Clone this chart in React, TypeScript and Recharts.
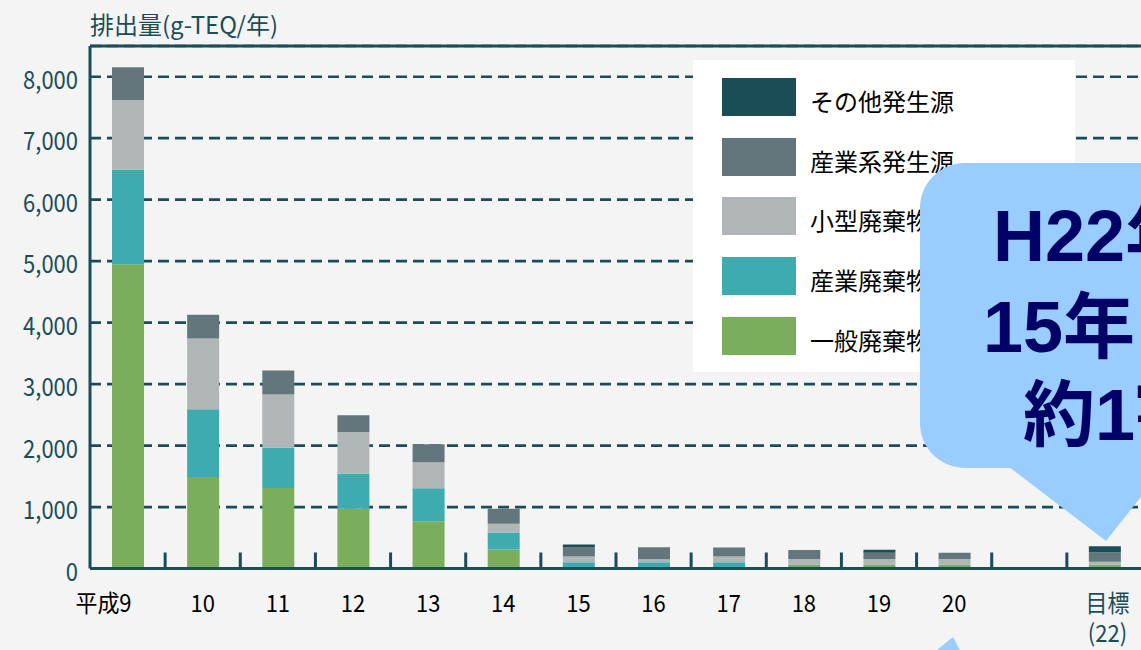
import React from "react";
import {
  BarChart,
  Bar,
  XAxis,
  YAxis,
  CartesianGrid,
  ReferenceLine,
  Legend,
} from "recharts";

const YEARS = ["平成9", "10", "11", "12", "13", "14", "15", "16", "17", "18", "19", "20", "", "目標\n(22)"];
const GENERAL = [4950, 1490, 1310, 970, 770, 310, 0, 0, 0, 60, 60, 60, null, 60];
const IND_WASTE = [1535, 1100, 660, 570, 535, 275, 100, 100, 100, 0, 0, 0, null, 0];
const SMALL = [1135, 1150, 860, 680, 425, 145, 95, 50, 95, 95, 95, 95, null, 50];
const IND_SRC = [535, 390, 390, 275, 290, 240, 145, 195, 145, 145, 100, 100, null, 150];
const OTHER = [0, 0, 0, 0, 0, 0, 50, 0, 0, 0, 50, 0, null, 100];
const Y_TICKS = [0, 1000, 2000, 3000, 4000, 5000, 6000, 7000, 8000];

// bottom to top
const SERIES = [
  { key: "general", name: "一般廃棄物焼却施設", color: "#7bae5c", values: GENERAL },
  { key: "indWaste", name: "産業廃棄物焼却施設", color: "#3eacaf", values: IND_WASTE },
  { key: "small", name: "小型廃棄物焼却炉等", color: "#b0b5b8", values: SMALL },
  { key: "indSrc", name: "産業系発生源", color: "#62767c", values: IND_SRC },
  { key: "other", name: "その他発生源", color: "#1b4d57", values: OTHER },
];

const data = YEARS.map((year, i) => {
  const row: any = { year };
  SERIES.forEach((s) => {
    row[s.key] = s.values[i];
  });
  return row;
});

const TEAL = "#1b4d57";
const FONT = "'Noto Sans CJK JP', 'Noto Sans', sans-serif";

const YTick = (props: any) => {
  const { x, y, payload } = props;
  const label = payload.value.toLocaleString("en-US");
  return (
    <text
      transform={`translate(${x},${y + 12}) scale(1,1.15)`}
      textAnchor="end"
      fill={TEAL}
      fontSize={22}
      fontFamily={FONT}
    >
      {label}
    </text>
  );
};

const XTick = (props: any) => {
  const { x, y, payload, index } = props;
  const half = payload.offset || 37.5;
  const lines = String(payload.value).split("\n");
  const last = index === YEARS.length - 1;
  return (
    <g>
      {!last && (
        <line x1={x + half} x2={x + half} y1={y} y2={y - 16} stroke={TEAL} strokeWidth={3} />
      )}
      {lines.map((t, i) => (
        <text
          key={i}
          transform={`translate(${index === 0 ? x + 4 : x + (last ? 3 : 0)},${y + 43 + i * 30}) scale(1,1.1)`}
          textAnchor={index === 0 ? "end" : "middle"}
          fill={last ? TEAL : "#000"}
          fontSize={22}
          fontFamily={FONT}
        >
          {t}
        </text>
      ))}
    </g>
  );
};

const LegendBox = () => (
  <div
    style={{
      width: 382,
      height: 312,
      background: "#fff",
      position: "relative",
      fontFamily: FONT,
    }}
  >
    {[...SERIES].reverse().map((s, i) => (
      <div key={s.key} style={{ position: "absolute", left: 29, top: 18 + i * 59.7, display: "flex", alignItems: "center" }}>
        <div style={{ width: 74, height: 38, background: s.color }} />
        <span style={{ marginLeft: 14, marginTop: 8, fontSize: 24, color: "#000", whiteSpace: "nowrap", lineHeight: "24px" }}>
          {s.name}
        </span>
      </div>
    ))}
  </div>
);

export default function App() {
  return (
    <div
      style={{
        position: "relative",
        width: 1141,
        height: 650,
        overflow: "hidden",
        background: "#f4f4f4",
        fontFamily: FONT,
      }}
    >
      <style>{`body{margin:0}`}</style>
      <div
        style={{
          position: "absolute",
          left: 90,
          top: 8,
          fontSize: 24,
          color: TEAL,
          whiteSpace: "nowrap",
          lineHeight: "32px",
        }}
      >
        排出量(g-TEQ/年)
      </div>
      <div style={{ position: "absolute", left: 0, top: 0 }}>
        <BarChart
          width={1160}
          height={650}
          data={data}
          margin={{ top: 46, right: 18, left: 0, bottom: 0 }}
          barSize={32}
        >
          <CartesianGrid
            vertical={false}
            stroke={TEAL}
            strokeWidth={2.7}
            strokeDasharray="11 6"
          />
          <XAxis
            dataKey="year"
            interval={0}
            height={81.5}
            tickLine={false}
            tickSize={0}
            tickMargin={0}
            axisLine={{ stroke: TEAL, strokeWidth: 3 }}
            tick={<XTick />}
          />
          <YAxis
            width={90}
            domain={[0, 8500]}
            ticks={Y_TICKS}
            allowDataOverflow
            tickLine={false}
            tickSize={0}
            tickMargin={12}
            axisLine={{ stroke: TEAL, strokeWidth: 3 }}
            tick={<YTick />}
          />
          <ReferenceLine y={8500} stroke={TEAL} strokeWidth={3} />
          {SERIES.map((s) => (
            <Bar
              key={s.key}
              dataKey={s.key}
              name={s.name}
              stackId="a"
              fill={s.color}
              isAnimationActive={false}
            />
          ))}
          <Legend
            layout="vertical"
            align="center"
            verticalAlign="middle"
            content={<LegendBox />}
            wrapperStyle={{ left: 693, top: 60, width: 382, height: 312 }}
          />
        </BarChart>
      </div>
      <svg
        width={1141}
        height={650}
        style={{ position: "absolute", left: 0, top: 0, zIndex: 10, pointerEvents: "none" }}
      >
        <rect x={920} y={163} width={320} height={305} rx={45} fill="#99ccff" />
        <polygon points="1000,460 1106,541 1170,460" fill="#99ccff" />
        <polygon points="922,662 953,637 966,662" fill="#99ccff" />
        <g fill="#000066" fontWeight="bold" fontFamily="'Liberation Sans', 'Noto Sans CJK JP', sans-serif">
          <text x={993} y={261} fontSize={72}>H22年度</text>
          <text x={983} y={352} fontSize={72}>15年</text>
          <text x={1023} y={440} fontSize={72}>約1割</text>
        </g>
      </svg>
    </div>
  );
}
